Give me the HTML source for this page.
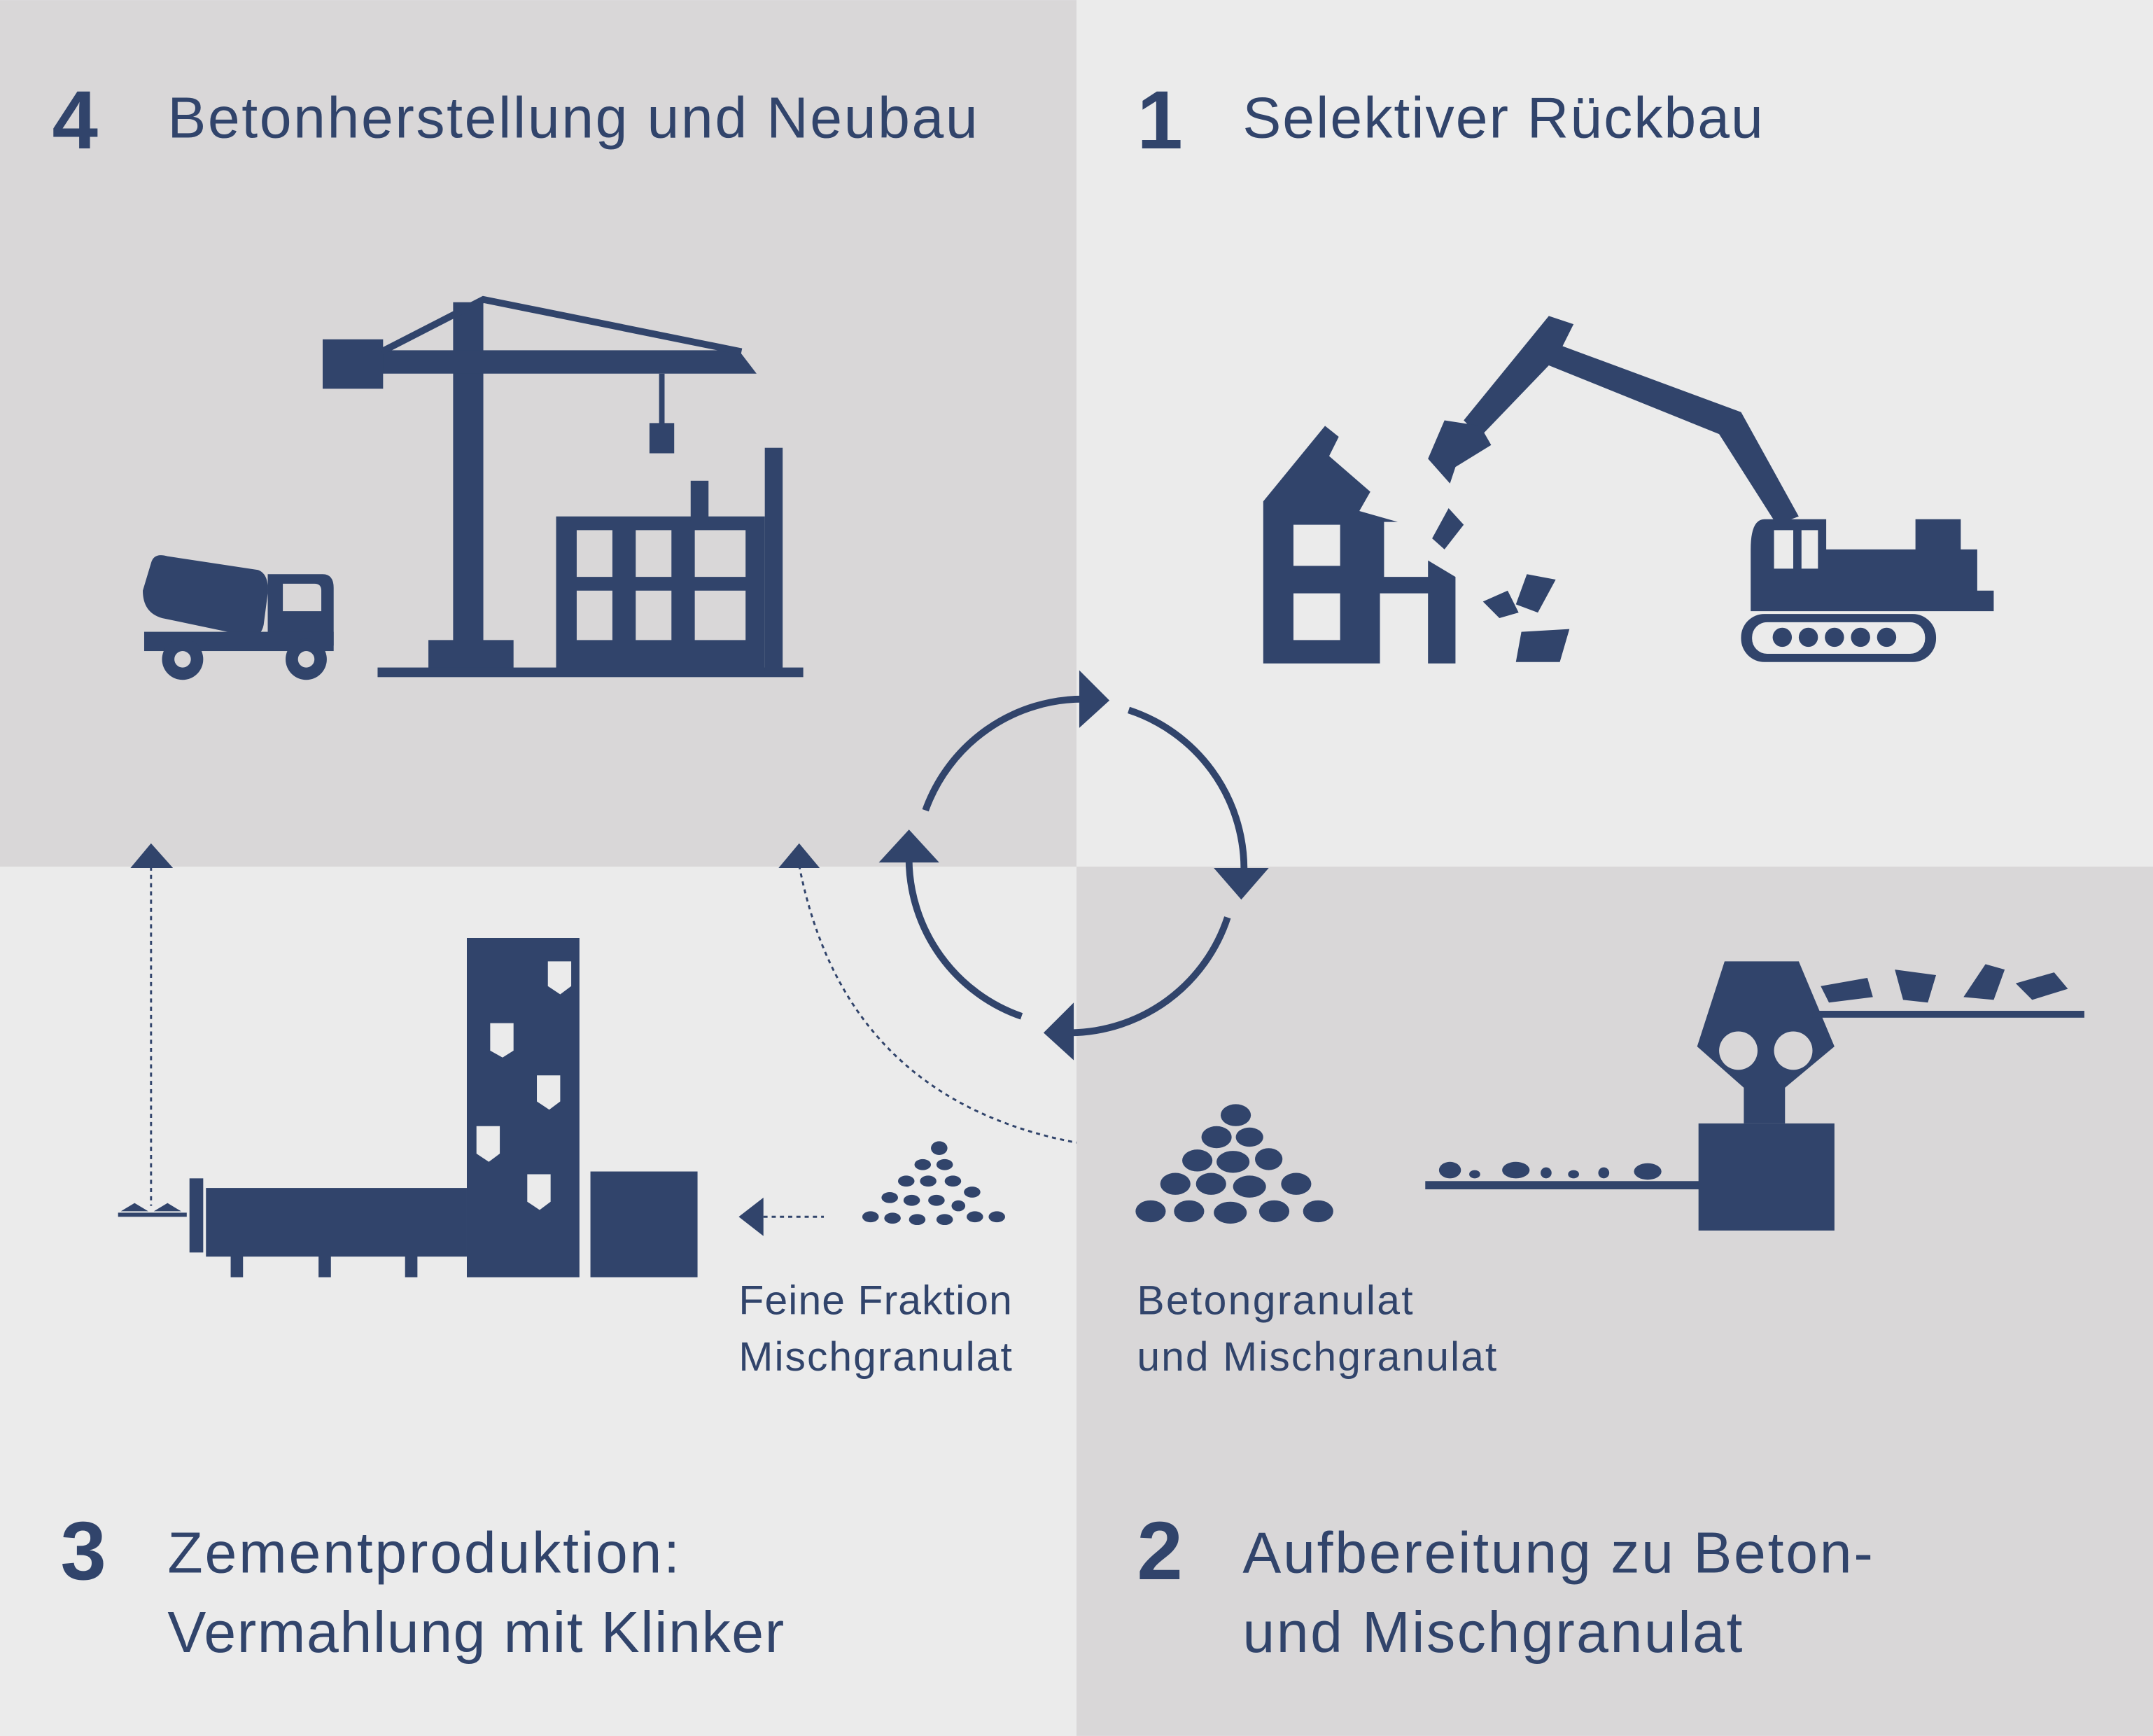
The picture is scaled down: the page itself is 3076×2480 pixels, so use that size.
<!DOCTYPE html>
<html><head><meta charset="utf-8"><style>
html,body{margin:0;padding:0;background:#ebebeb}
svg{display:block}
text{font-family:"Liberation Sans",sans-serif;fill:#31446b}
</style></head><body>
<svg width="3076" height="2480" viewBox="0 0 1568 1264" xmlns="http://www.w3.org/2000/svg">
<rect x="0" y="0" width="1568" height="1264" fill="#ebebeb"/>
<rect x="0" y="0" width="784" height="631" fill="#d9d7d8"/>
<rect x="784" y="631" width="784" height="633" fill="#d9d7d8"/>

<g fill="#31446b">
<!-- titles -->
<text x="38" y="108" font-size="60" font-weight="bold">4</text>
<text x="122" y="100" font-size="42" textLength="590" lengthAdjust="spacing">Betonherstellung und Neubau</text>
<text x="828" y="108" font-size="60" font-weight="bold">1</text>
<text x="905" y="100" font-size="42" textLength="379" lengthAdjust="spacing">Selektiver Rückbau</text>
<text x="44" y="1150" font-size="60" font-weight="bold">3</text>
<text x="122" y="1145" font-size="42" textLength="373" lengthAdjust="spacing">Zementproduktion:</text>
<text x="122" y="1203" font-size="42" textLength="449" lengthAdjust="spacing">Vermahlung mit Klinker</text>
<text x="828" y="1150" font-size="60" font-weight="bold">2</text>
<text x="905" y="1145" font-size="42" textLength="459" lengthAdjust="spacing">Aufbereitung zu Beton-</text>
<text x="905" y="1203" font-size="42" textLength="364" lengthAdjust="spacing">und Mischgranulat</text>
<text x="538" y="957" font-size="30" textLength="199" lengthAdjust="spacing">Feine Fraktion</text>
<text x="538" y="998" font-size="30" textLength="199" lengthAdjust="spacing">Mischgranulat</text>
<text x="828" y="957" font-size="30" textLength="201" lengthAdjust="spacing">Betongranulat</text>
<text x="828" y="998" font-size="30" textLength="262" lengthAdjust="spacing">und Mischgranulat</text>

<!-- crane -->
<rect x="330" y="220" width="22" height="250"/>
<rect x="312" y="466" width="62" height="22"/>
<rect x="275" y="486" width="310" height="7"/>
<polygon points="235,255 538,255 551,272 235,272"/>
<rect x="235" y="247" width="44" height="36"/>
<polyline points="278,256 352,218 540,256" fill="none" stroke="#31446b" stroke-width="5"/>
<rect x="480" y="272" width="4" height="38"/>
<rect x="473" y="308" width="18" height="22"/>
<!-- building -->
<path d="M405,376H557V488H405Z M420,386V420H446V386Z M463,386V420H489V386Z M506,386V420H543V386Z M420,430V466H446V430Z M463,430V466H489V430Z M506,430V466H543V430Z" fill-rule="evenodd"/>
<rect x="557" y="326" width="13" height="162"/>
<rect x="503" y="350" width="13" height="30"/>
<!-- truck -->
<path d="M110,410 Q112,402 122,405 L188,415 Q196,418 195,432 L192,455 Q190,465 180,463 L118,450 Q104,446 104,430Z"/>
<path d="M195,418H235Q243,418 243,428V470H195Z"/>
<path d="M206,425V445H234V430Q234,425 229,425Z" fill="#d9d7d8"/>
<rect x="105" y="460" width="138" height="14"/>
<circle cx="133" cy="480" r="15"/><circle cx="133" cy="480" r="6" fill="#d9d7d8"/>
<circle cx="223" cy="480" r="15"/><circle cx="223" cy="480" r="6" fill="#d9d7d8"/>

<!-- house demolition -->
<path d="M920,365 L965,310 L975,318 L968,332 L998,358 L990,372 L1018,380 L1008,380 V420 L1040,420 V408 L1060,420 V483 H1040 V432 H1005 V483 H920Z M942,382V412H976V382Z M942,432V466H976V466V432Z" fill-rule="evenodd"/>
<polygon points="1043,392 1055,370 1066,382 1052,400"/>
<polygon points="1080,438 1098,430 1106,446 1092,450"/>
<polygon points="1112,418 1133,422 1120,446 1104,440"/>
<polygon points="1108,460 1143,458 1136,482 1104,482"/>
<!-- excavator -->
<polygon points="1128,230 1146,236 1138,252 1268,300 1310,376 1294,382 1252,316 1128,266 1078,318 1066,306"/>
<polygon points="1052,306 1078,310 1086,324 1060,340 1056,352 1040,334"/>
<path d="M1285,378H1330V400H1395V378H1428V400H1440V430H1452V445H1275V400Q1275,378 1285,378Z M1292,386V414H1306V386Z M1312,386V414H1324V386Z" fill-rule="evenodd"/>
<rect x="1268" y="447" width="142" height="35" rx="17"/>
<rect x="1276" y="453" width="126" height="23" rx="11" fill="#ebebeb"/>
<circle cx="1298" cy="464" r="7"/><circle cx="1317" cy="464" r="7"/><circle cx="1336" cy="464" r="7"/><circle cx="1355" cy="464" r="7"/><circle cx="1374" cy="464" r="7"/>

<!-- cement plant -->
<path d="M340,683H422V930H340Z" />
<rect x="430" y="853" width="78" height="77"/>
<rect x="150" y="865" width="190" height="50"/>
<rect x="138" y="858" width="10" height="54"/>
<rect x="168" y="910" width="9" height="20"/><rect x="232" y="910" width="9" height="20"/><rect x="295" y="910" width="9" height="20"/>
<g fill="#ebebeb">
<path d="M399,700H416V718L408,724L399,718Z"/>
<path d="M357,745H374V765L366,770L357,765Z"/>
<path d="M391,783H408V802L400,808L391,802Z"/>
<path d="M347,820H364V840L356,846L347,840Z"/>
<path d="M384,855H401V875L393,881L384,875Z"/>
</g>
<rect x="86" y="883" width="50" height="3"/>
<polygon points="88,882 98,876 108,882"/><polygon points="112,882 122,876 132,882"/>
<line x1="110" y1="625" x2="110" y2="878" stroke="#31446b" stroke-width="1.5" stroke-dasharray="3,3"/>
<polygon points="95,632 110,614 126,632"/>
<polygon points="567,632 582,614 597,632"/>
<path d="M582,630 Q615,800 784,832" fill="none" stroke="#31446b" stroke-width="1.5" stroke-dasharray="3,3"/>
<line x1="556" y1="886" x2="600" y2="886" stroke="#31446b" stroke-width="1.5" stroke-dasharray="3,3"/>
<polygon points="538,886 556,872 556,900"/>

<!-- piles -->
<g>
<ellipse cx="684" cy="836" rx="6" ry="5"/><ellipse cx="672" cy="848" rx="6" ry="4"/><ellipse cx="688" cy="848" rx="6" ry="4"/>
<ellipse cx="660" cy="860" rx="6" ry="4"/><ellipse cx="676" cy="860" rx="6" ry="4"/><ellipse cx="694" cy="860" rx="6" ry="4"/><ellipse cx="708" cy="868" rx="6" ry="4"/>
<ellipse cx="648" cy="872" rx="6" ry="4"/><ellipse cx="664" cy="874" rx="6" ry="4"/><ellipse cx="682" cy="874" rx="6" ry="4"/><ellipse cx="698" cy="878" rx="5" ry="4"/>
<ellipse cx="634" cy="886" rx="6" ry="4"/><ellipse cx="650" cy="887" rx="6" ry="4"/><ellipse cx="668" cy="888" rx="6" ry="4"/><ellipse cx="688" cy="888" rx="6" ry="4"/><ellipse cx="710" cy="886" rx="6" ry="4"/><ellipse cx="726" cy="886" rx="6" ry="4"/>
</g>
<g>
<ellipse cx="900" cy="812" rx="11" ry="8"/><ellipse cx="886" cy="828" rx="11" ry="8"/><ellipse cx="910" cy="828" rx="10" ry="7"/>
<ellipse cx="872" cy="845" rx="11" ry="8"/><ellipse cx="898" cy="846" rx="12" ry="8"/><ellipse cx="924" cy="844" rx="10" ry="8"/>
<ellipse cx="856" cy="862" rx="11" ry="8"/><ellipse cx="882" cy="862" rx="11" ry="8"/><ellipse cx="910" cy="864" rx="12" ry="8"/><ellipse cx="944" cy="862" rx="11" ry="8"/>
<ellipse cx="838" cy="882" rx="11" ry="8"/><ellipse cx="866" cy="882" rx="11" ry="8"/><ellipse cx="896" cy="883" rx="12" ry="8"/><ellipse cx="928" cy="882" rx="11" ry="8"/><ellipse cx="960" cy="882" rx="11" ry="8"/>
</g>
<!-- crusher -->
<rect x="1038" y="860" width="200" height="6"/>
<ellipse cx="1056" cy="852" rx="8" ry="6"/><ellipse cx="1074" cy="855" rx="4" ry="3"/><ellipse cx="1104" cy="852" rx="10" ry="6"/><ellipse cx="1126" cy="854" rx="4" ry="4"/><ellipse cx="1146" cy="855" rx="4" ry="3"/><ellipse cx="1168" cy="854" rx="4" ry="4"/><ellipse cx="1200" cy="853" rx="10" ry="6"/>
<rect x="1237" y="818" width="99" height="78"/>
<path d="M1256,700H1310L1336,762L1300,792V818H1270V792L1236,762Z"/>
<circle cx="1266" cy="765" r="14" fill="#d9d7d8"/><circle cx="1306" cy="765" r="14" fill="#d9d7d8"/>
<rect x="1320" y="736" width="198" height="5"/>
<polygon points="1326,718 1360,712 1364,726 1332,730"/>
<polygon points="1380,706 1410,710 1404,730 1386,728"/>
<polygon points="1430,726 1446,702 1460,706 1452,728"/>
<polygon points="1468,716 1496,708 1506,720 1480,728"/>

<!-- cycle -->
<g fill="none" stroke="#31446b" stroke-width="5">
<path d="M674,590 A122,122 0 0 1 790,509"/>
<path d="M822,517 A122,122 0 0 1 906,632"/>
<path d="M894,668 A122,122 0 0 1 780,752"/>
<path d="M744,740 A122,122 0 0 1 662,626"/>
</g>
<polygon points="786,488 808,510 786,530"/>
<polygon points="884,632 924,632 904,655"/>
<polygon points="782,730 760,752 782,772"/>
<polygon points="640,628 684,628 662,604"/>
</g>
</svg>
</body></html>
